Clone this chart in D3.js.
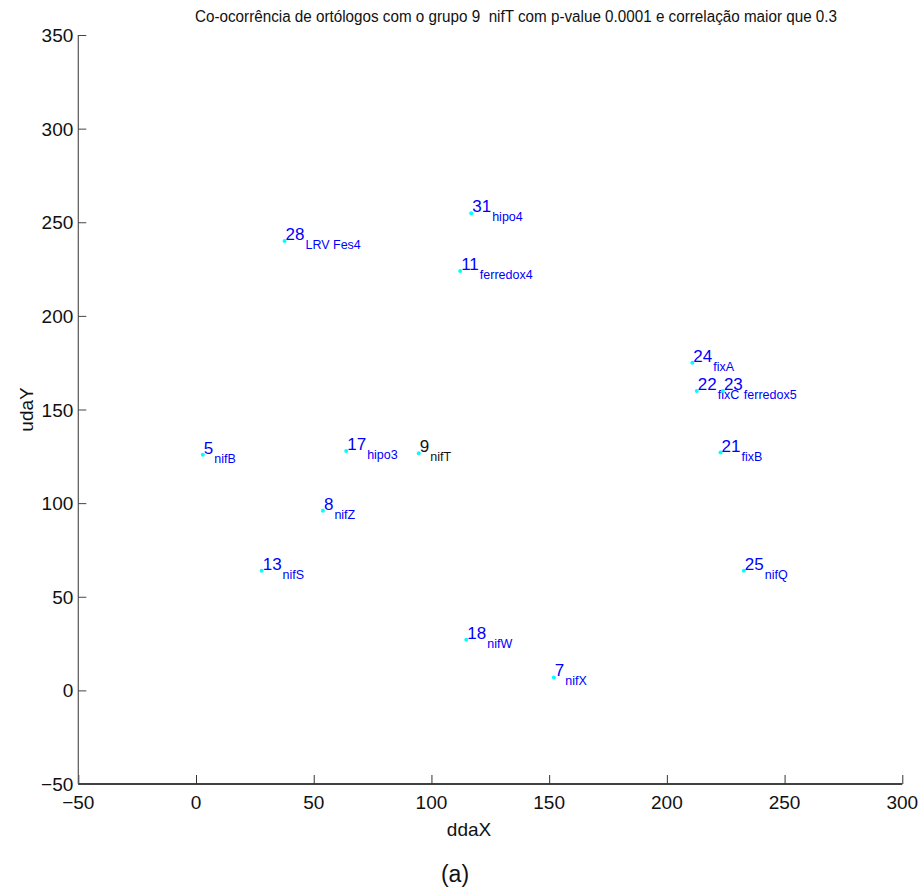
<!DOCTYPE html>
<html>
<head>
<meta charset="utf-8">
<script src="https://cdn.jsdelivr.net/npm/d3@7"></script>
<style>
  body { margin: 0; background: #fff; }
  svg { display: block; font-family: "Liberation Sans", Arial, sans-serif; }
  .title { white-space: pre; }
</style>
</head>
<body>
<svg id="chart" width="922" height="891"></svg>
<script>
// group ids, gene names and coordinates
const ids = ['28', '31', '11', '24', '22', '23', '5', '17', '9', '21', '8', '13', '25', '18', '7'];
const names = ['LRV Fes4', 'hipo4', 'ferredox4', 'fixA', 'fixC', 'ferredox5', 'nifB', 'hipo3', 'nifT', 'fixB', 'nifZ', 'nifS', 'nifQ', 'nifW', 'nifX'];
const ddaX = [37.6, 116.9, 112.2, 210.8, 212.7, 223.8, 2.9, 63.8, 94.6, 222.8, 53.9, 27.9, 232.7, 114.8, 152];
const udaY = [240, 254.8, 224, 174.9, 159.9, 159.9, 125.9, 127.8, 126.7, 127, 95.9, 63.9, 63.9, 27, 6.9];
const xTicks = [-50, 0, 50, 100, 150, 200, 250, 300];
const yTicks = [-50, 0, 50, 100, 150, 200, 250, 300, 350];
const focus = '9';

const data = ids.map((id, i) => ({ id, name: names[i], x: ddaX[i], y: udaY[i] }));

const svg = d3.select('#chart');
const margin = { left: 78.3, right: 19.7, top: 35, bottom: 107 };
const width = 922, height = 891;

const x = d3.scaleLinear().domain([-50, 300]).range([margin.left, width - margin.right]);
const y = d3.scaleLinear().domain([-50, 350]).range([height - margin.bottom, margin.top]);

// title
svg.append('text')
  .attr('class', 'title')
  .attr('x', 195).attr('y', 22)
  .attr('textLength', 642).attr('lengthAdjust', 'spacingAndGlyphs')
  .attr('font-size', 16).attr('fill', '#111')
  .text('Co-ocorrência de ortólogos com o grupo 9  nifT com p-value 0.0001 e correlação maior que 0.3');

// x axis (ticks pointing inward)
const xAxis = svg.append('g')
  .attr('transform', `translate(0,${y(-50)})`)
  .call(d3.axisTop(x).tickValues(xTicks).tickSize(9).tickFormat(''));
xAxis.select('.domain').attr('d', `M${x(-50)},0H${x(300)}`).attr('stroke', '#000').attr('stroke-width', 1.3);
xAxis.selectAll('.tick line').attr('stroke', '#333');
svg.append('g').selectAll('text')
  .data(xTicks).enter().append('text')
  .attr('x', d => x(d)).attr('y', y(-50) + 25)
  .attr('text-anchor', 'middle').attr('font-size', 19).attr('fill', '#111')
  .text(d => d < 0 ? '\u2212' + Math.abs(d) : d);

// y axis
const yAxis = svg.append('g')
  .attr('transform', `translate(${x(-50)},0)`)
  .call(d3.axisRight(y).tickValues(yTicks).tickSize(8).tickFormat(''));
yAxis.select('.domain').attr('d', `M0,${y(350)}V${y(-50)}`).attr('stroke', '#555').attr('stroke-width', 1.2);
yAxis.selectAll('.tick line').attr('stroke', '#444');
svg.append('g').selectAll('text')
  .data(yTicks).enter().append('text')
  .attr('x', x(-50) - 5).attr('y', d => y(d) + 7)
  .attr('text-anchor', 'end').attr('font-size', 19).attr('fill', '#111')
  .text(d => d < 0 ? '\u2212' + Math.abs(d) : d);

// axis titles
svg.append('text')
  .attr('x', 469).attr('y', 836)
  .attr('text-anchor', 'middle').attr('font-size', 19).attr('fill', '#111')
  .text('ddaX');
svg.append('text')
  .attr('transform', `translate(33,${(y(350) + y(-50)) / 2}) rotate(-90)`)
  .attr('text-anchor', 'middle').attr('font-size', 19).attr('fill', '#111')
  .text('udaY');
svg.append('text')
  .attr('x', 455).attr('y', 882)
  .attr('text-anchor', 'middle').attr('font-size', 23).attr('fill', '#111')
  .text('(a)');

// points + labels
const pts = svg.append('g').selectAll('g')
  .data(data).enter().append('g')
  .attr('transform', d => `translate(${x(d.x)},${y(d.y)})`);

pts.append('circle')
  .attr('r', 2).attr('fill', '#00ffff');

const lab = pts.append('text')
  .attr('x', 1).attr('y', -1)
  .attr('fill', d => d.id === focus ? '#111' : '#0000ff');
lab.append('tspan')
  .attr('font-size', 17)
  .text(d => d.id);
lab.append('tspan')
  .attr('font-size', 12.5).attr('dx', 1).attr('dy', 9)
  .text(d => d.name);
</script>
</body>
</html>
